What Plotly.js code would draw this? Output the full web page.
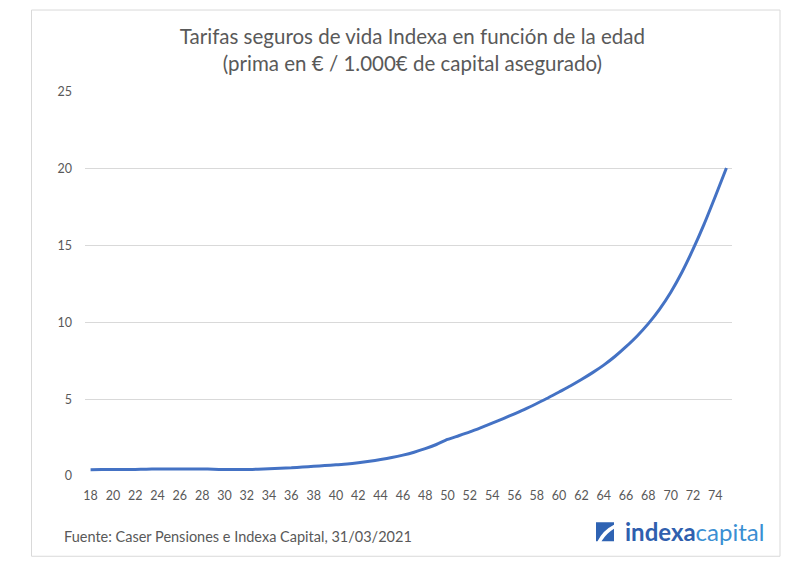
<!DOCTYPE html>
<html>
<head>
<meta charset="utf-8">
<script src="https://cdn.plot.ly/plotly-3.0.1.min.js"></script>
<style>html,body{margin:0;padding:0;background:#fff;}#chart{width:800px;height:564px;}</style>
</head>
<body>
<div id="chart"></div>
<script>
// Data
var ages = [18,19,20,21,22,23,24,25,26,27,28,29,30,31,32,33,34,35,36,37,38,39,40,41,42,43,44,45,46,47,48,49,50,51,52,53,54,55,56,57,58,59,60,61,62,63,64,65,66,67,68,69,70,71,72,73,74,75];
var prima = [0.41,0.42,0.43,0.43,0.43,0.44,0.46,0.46,0.46,0.46,0.46,0.44,0.42,0.42,0.42,0.44,0.47,0.50,0.53,0.58,0.63,0.68,0.73,0.78,0.86,0.96,1.07,1.20,1.36,1.55,1.78,2.05,2.38,2.62,2.87,3.15,3.44,3.74,4.05,4.37,4.72,5.08,5.47,5.86,6.28,6.73,7.22,7.78,8.42,9.12,9.92,10.85,11.95,13.25,14.75,16.4,18.2,20.05];
var xTicks = [18,20,22,24,26,28,30,32,34,36,38,40,42,44,46,48,50,52,54,56,58,60,62,64,66,68,70,72,74];
var yTicks = [0,5,10,15,20,25];
var titleText = 'Tarifas seguros de vida Indexa en función de la edad<br>(prima en € / 1.000€ de capital asegurado)';
var sourceText = 'Fuente: Caser Pensiones e Indexa Capital, 31/03/2021';

var W = 800, H = 564;
var L = 85, R = 732, T = 91.5, B = 475.7;
function px(x){ return (x - L) / (R - L); }
function py(y){ return (B - y) / (B - T); }
function pt(x,y){ return px(x).toFixed(5) + ',' + py(y).toFixed(5); }

var trace = {
  x: ages, y: prima, type: 'scatter', mode: 'lines',
  line: {color: '#4472C4', width: 3, shape: 'spline', smoothing: 0.6},
  hoverinfo: 'x+y'
};

var font = 'Lato, "Open Sans", "DejaVu Sans", sans-serif';

var layout = {
  width: W, height: H,
  margin: {l: L, r: W - R, t: T, b: H - B},
  paper_bgcolor: '#ffffff', plot_bgcolor: '#ffffff',
  showlegend: false,
  font: {family: font, color: '#595959'},
  title: {
    text: titleText,
    font: {family: font, size: 20.5, color: '#595959'},
    x: 0.506, xref: 'paper', xanchor: 'center',
    y: 1 - 44/H, yanchor: 'middle'
  },
  xaxis: {
    range: [17.5, 75.5],
    tickmode: 'array', tickvals: xTicks, ticktext: xTicks.map(String),
    showgrid: false, zeroline: false, showline: false, ticks: '',
    tickfont: {family: font, size: 12.5, color: '#595959'},
    ticklabelstandoff: 10, fixedrange: true
  },
  yaxis: {
    range: [0, 25],
    tickmode: 'array', tickvals: yTicks, ticktext: yTicks.map(String),
    showgrid: true, gridcolor: '#d9d9d9', gridwidth: 1,
    zeroline: false, showline: false, ticks: '',
    tickfont: {family: font, size: 12.5, color: '#595959'},
    ticklabelstandoff: 12, fixedrange: true
  },
  shapes: [
    {type: 'rect', xref: 'paper', yref: 'paper',
     x0: px(31.5), x1: px(780), y0: py(556), y1: py(9.5),
     line: {color: '#d9d9d9', width: 1}, fillcolor: 'rgba(0,0,0,0)', layer: 'below'},
    {type: 'path', xref: 'paper', yref: 'paper',
     path: 'M' + pt(596,522) + ' L' + pt(614,522) + ' L' + pt(614,524.5) + ' Q' + pt(603,530) + ' ' + pt(597.5,541) + ' L' + pt(596,541) + ' Z',
     fillcolor: '#2f63b3', line: {width: 0}},
    {type: 'path', xref: 'paper', yref: 'paper',
     path: 'M' + pt(614,528.5) + ' L' + pt(614,541) + ' L' + pt(601.5,541) + ' Q' + pt(606.5,533) + ' ' + pt(614,528.5) + ' Z',
     fillcolor: '#2f63b3', line: {width: 0}}
  ],
  annotations: [
    {text: sourceText, xref: 'paper', yref: 'paper', x: px(62), y: py(536),
     xanchor: 'left', yanchor: 'middle', showarrow: false,
     font: {family: font, size: 14.5, color: '#595959'}},
    {text: '<b>indexa</b><span style="color:#3a8fd3">capital</span>', xref: 'paper', yref: 'paper',
     x: px(766), y: py(531), xanchor: 'right', yanchor: 'middle', showarrow: false,
     font: {family: font, size: 24, color: '#2f5fae'}}
  ]
};

Plotly.newPlot('chart', [trace], layout, {displayModeBar: false, staticPlot: true});
</script>
</body>
</html>
